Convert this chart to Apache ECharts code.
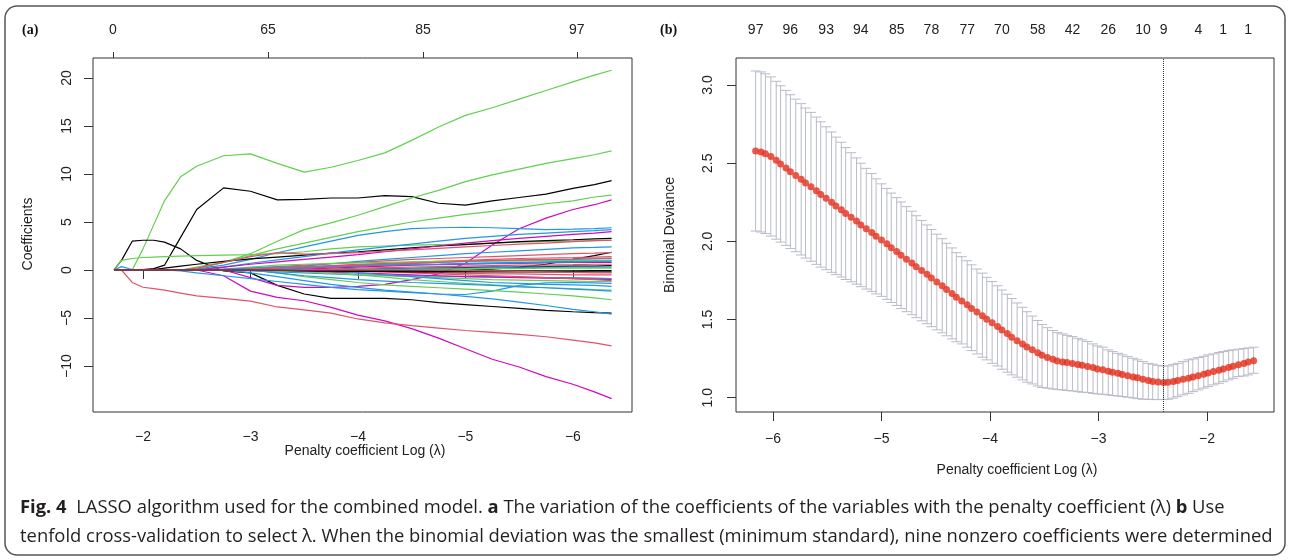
<!DOCTYPE html>
<html>
<head>
<meta charset="utf-8">
<script src="https://cdn.jsdelivr.net/npm/echarts@6/dist/echarts.min.js"></script>
<style>
  html, body { margin: 0; padding: 0; background: #fff; }
  #chart { width: 1290px; height: 560px; }
</style>
</head>
<body>
<div id="chart"></div>
<script>
// ---- panel (a): coefficient paths, sampled at these log(lambda) values
const LOG_LAMBDA_A = [-1.73, -1.8, -1.9, -2.0, -2.1, -2.2, -2.35, -2.5, -2.75, -3.0, -3.25, -3.5,
  -3.75, -4.0, -4.25, -4.5, -4.75, -5.0, -5.25, -5.5, -5.75, -6.0, -6.2, -6.36]

const G1 = [0, 0, 0, 2.2, 4.7, 7.2, 9.7, 10.8, 11.9, 12.1, 11.1, 10.2, 10.7, 11.4, 12.2, 13.5, 14.9, 16.1, 16.9, 17.8, 18.7, 19.6, 20.3, 20.8]
const K1 = [0, 0, 0, 0.05, 0.15, 0.5, 3.4, 6.3, 8.55, 8.2, 7.3, 7.35, 7.5, 7.5, 7.75, 7.65, 6.95, 6.75, 7.2, 7.55, 7.9, 8.5, 8.9, 9.3]
const K2 = [0, 1.0, 3.0, 3.1, 3.1, 2.9, 2.2, 1.0, -0.1, -0.3, -1.6, -2.5, -2.95, -2.95, -2.95, -3.1, -3.4, -3.6, -3.8, -4.0, -4.2, -4.35, -4.45, -4.5]
const G2 = [0, 0, 0, 0, 0, 0, 0, 0.1, 0.8, 1.7, 3.0, 4.2, 4.9, 5.7, 6.6, 7.5, 8.3, 9.2, 9.9, 10.5, 11.1, 11.6, 12.0, 12.4]
const G3 = [0, 0, 0, 0, 0, 0, 0, 0.3, 0.8, 1.5, 2.2, 2.8, 3.4, 4.0, 4.5, 5.0, 5.4, 5.8, 6.1, 6.5, 6.9, 7.2, 7.6, 7.8]
const M1 = [0, 0, 0, 0, 0, 0, 0, 0, -0.6, -2.2, -2.85, -3.2, -3.9, -4.7, -5.3, -6.1, -7.1, -8.2, -9.3, -10.1, -11.1, -11.9, -12.7, -13.4]
const R1 = [0, 0, -1.3, -1.8, -1.95, -2.1, -2.4, -2.7, -2.95, -3.25, -3.85, -4.15, -4.5, -5.1, -5.5, -5.8, -6.05, -6.3, -6.5, -6.7, -6.95, -7.3, -7.6, -7.9]
const M2 = [0, 0, 0, 0, 0, 0, 0, 0, 0, -0.8, -1.6, -1.8, -1.8, -1.7, -1.5, -1.0, -0.4, 0.7, 2.6, 4.3, 5.4, 6.3, 6.8, 7.3]
const B1 = [0, 0, 0, 0, 0, 0, 0, 0.1, 0.5, 1.1, 1.8, 2.4, 3.0, 3.6, 4.0, 4.3, 4.4, 4.45, 4.4, 4.3, 4.2, 4.25, 4.3, 4.4]
const G4 = [0, 1.0, 1.2, 1.3, 1.35, 1.4, 1.45, 1.5, 1.55, 1.6, 1.7, 1.9, 2.2, 2.4, 2.5, 2.6, 2.65, 2.7, 2.8, 2.9, 2.95, 3.0, 3.05, 3.1]
const K3 = [0, 0, 0, 0, 0.05, 0.2, 0.4, 0.6, 0.9, 1.15, 1.35, 1.55, 1.75, 1.9, 2.1, 2.3, 2.5, 2.65, 2.8, 2.95, 3.05, 3.15, 3.25, 3.3]
const K4 = [0, 0, 0, 0, 0, 0, 0, 0, 0, 0, 0, 0, 0, 0, 0, 0, 0, 0, 0.1, 0.3, 0.6, 1.1, 1.5, 1.85]
const B2 = [0, 0, 0, 0, 0, 0, 0, 0, 0, -0.3, -0.7, -1.1, -1.5, -1.8, -2.1, -2.3, -2.5, -2.75, -3.0, -3.35, -3.7, -4.1, -4.35, -4.6]
const B3 = [0, 0, 0, 0, 0, 0, -0.1, -0.3, -0.6, -0.9, -1.2, -1.5, -1.8, -2.05, -2.2, -2.35, -2.5, -2.55, -2.2, -1.6, -1.35, -1.3, -1.35, -1.4]
const G5 = [0, 0, 0, 0, 0, 0, 0, 0, 0, 0, -0.3, -0.7, -1.0, -1.3, -1.55, -1.7, -1.85, -2.0, -2.15, -2.3, -2.5, -2.7, -2.9, -3.1]
const G6 = [0, 0, 0, 0, 0, 0, 0, 0, 0, 0, 0, 0, -0.2, -0.5, -0.75, -1.0, -1.2, -1.4, -1.55, -1.7, -1.85, -1.95, -2.05, -2.1]
const B4 = [0, 0, 0, 0, 0, 0, 0, 0, 0, 0, -0.3, -0.6, -0.8, -1.0, -1.15, -1.3, -1.4, -1.5, -1.6, -1.75, -1.85, -2.0, -2.1, -2.2]
const B5 = [0, 0, 0, 0, 0, 0, 0, 0, 0.3, 0.7, 1.05, 1.4, 1.75, 2.1, 2.4, 2.7, 3.0, 3.3, 3.5, 3.7, 3.85, 4.0, 4.1, 4.2]
const M3 = [0, 0, 0, 0, 0, 0, 0, 0, 0.3, 0.6, 0.85, 1.1, 1.35, 1.6, 1.9, 2.2, 2.5, 2.8, 3.05, 3.3, 3.5, 3.7, 3.85, 4.0]
const R2 = [0, 0, 0, 0, 0, 0, 0, 0.2, 0.8, 1.4, 1.8, 1.65, 1.7, 1.8, 1.95, 2.1, 2.25, 2.4, 2.55, 2.7, 2.8, 2.95, 3.05, 3.1]
const B6 = [0, 0, 0, 0, 0, 0, 0, 0, 0, 0, 0.2, 0.4, 0.65, 0.9, 1.1, 1.3, 1.5, 1.7, 1.85, 2.0, 2.15, 2.3, 2.35, 2.4]
const R3 = [0, 0, 0, 0, 0, 0, 0, 0, 0, 0.2, 0.35, 0.5, 0.65, 0.8, 0.95, 1.1, 1.2, 1.3, 1.4, 1.5, 1.6, 1.7, 1.75, 1.8]
const R4 = [0, 0, 0, 0, 0, 0, 0, 0, 0, 0, 0.15, 0.3, 0.45, 0.6, 0.7, 0.8, 0.9, 1.0, 1.1, 1.2, 1.25, 1.3, 1.35, 1.4]
const B7 = [0, 0.35, 0.05, 0, 0, 0, 0, 0, 0, 0, 0.1, 0.2, 0.3, 0.4, 0.5, 0.55, 0.6, 0.7, 0.75, 0.8, 0.85, 0.9, 0.95, 1.0]
const N1 = [0, 0, 0, 0, 0, 0, 0, 0, 0, 0, 0.1, 0.25, 0.4, 0.5, 0.6, 0.7, 0.8, 0.9, 0.95, 1.0, 1.05, 1.1, 1.15, 1.2]
const N2 = [0, 0, 0, 0, 0, 0, 0, 0, 0.1, 0.3, 0.5, 0.6, 0.7, 0.75, 0.8, 0.85, 0.9, 0.9, 0.95, 0.95, 1.0, 1.0, 1.0, 1.0]
const N3 = [0, 0, 0, 0, 0, 0, 0, 0, 0, 0, 0, 0.1, 0.2, 0.3, 0.4, 0.5, 0.55, 0.6, 0.65, 0.7, 0.75, 0.8, 0.8, 0.8]
const N4 = [0, 0, 0, 0, 0, 0, 0, 0, 0, 0, 0, 0, 0.1, 0.2, 0.25, 0.3, 0.35, 0.4, 0.45, 0.5, 0.5, 0.55, 0.6, 0.6]
const N5 = [0, 0, 0, 0, 0, 0, 0, 0, 0, 0, 0, 0, 0, 0.05, 0.1, 0.15, 0.2, 0.25, 0.3, 0.3, 0.35, 0.4, 0.4, 0.45]
const N6 = [0, 0, 0, 0, 0, 0, 0, 0, 0, 0, 0, 0, 0, 0, 0.1, 0.15, 0.2, 0.2, 0.25, 0.3, 0.3, 0.3, 0.3, 0.3]
const N7 = [0, 0, 0, 0, 0, 0, 0, 0, 0, 0, 0, 0, 0, 0, 0, 0.05, 0.1, 0.1, 0.15, 0.15, 0.2, 0.2, 0.2, 0.2]
const N10 = [0, 0, 0, 0, 0, 0, 0, 0, 0, 0, 0, 0, -0.1, -0.15, -0.2, -0.25, -0.3, -0.35, -0.4, -0.4, -0.45, -0.5, -0.5, -0.5]
const N11 = [0, 0, 0, 0, 0, 0, 0, 0, 0, -0.1, -0.2, -0.3, -0.4, -0.5, -0.55, -0.6, -0.65, -0.7, -0.7, -0.75, -0.8, -0.8, -0.85, -0.9]
const N12 = [0, 0, 0, 0, 0, 0, 0, 0, 0, 0, -0.1, -0.2, -0.35, -0.5, -0.6, -0.7, -0.8, -0.9, -1.0, -1.05, -1.1, -1.15, -1.2, -1.2]
const N13 = [0, 0, 0, 0, 0, 0, 0, 0, 0, 0, 0, -0.1, -0.2, -0.3, -0.4, -0.5, -0.6, -0.7, -0.75, -0.8, -0.85, -0.9, -0.95, -1.0]
const N14 = [0, 0, 0, 0, 0, 0, 0, 0, 0, 0, 0, 0, 0, -0.1, -0.2, -0.3, -0.4, -0.5, -0.6, -0.7, -0.8, -0.9, -1.0, -1.1]
const N15 = [0, 0, 0, 0, 0, 0, 0, 0, 0, 0, 0, 0, -0.1, -0.3, -0.5, -0.7, -0.9, -1.1, -1.3, -1.4, -1.5, -1.55, -1.6, -1.7]
const N16 = [0, 0, 0, 0, 0, 0, 0, 0, 0.1, 0.2, 0.3, 0.35, 0.4, 0.45, 0.5, 0.55, 0.6, 0.65, 0.7, 0.75, 0.8, 0.85, 0.9, 0.9]
const N17 = [0, 0, 0, 0, 0, 0, 0, 0, 0, 0.1, 0.2, 0.3, 0.4, 0.5, 0.6, 0.7, 0.8, 0.9, 1.0, 1.05, 1.1, 1.15, 1.2, 1.25]
const N8 = [0, 0, 0, 0, 0, 0, 0, 0, 0, 0, -0.05, -0.1, -0.1, -0.15, -0.15, -0.2, -0.2, -0.2, -0.2, -0.2, -0.2, -0.2, -0.2, -0.2]
const N9 = [0, 0, 0, 0, 0, 0, 0, 0, 0, 0, 0, -0.05, -0.1, -0.1, -0.1, -0.1, -0.15, -0.1, -0.1, -0.1, -0.1, -0.1, -0.05, -0.05]
const N18 = [0, 0, 0, 0, 0, 0, 0, 0, 0, 0, 0, 0, 0, 0, 0, 0, 0, -0.05, -0.1, -0.15, -0.2, -0.25, -0.3, -0.3]

// number of nonzero coefficients on the top axis of (a)
const TOP_A_POS = [-1.72, -3.163, -4.605, -6.037]
const TOP_A_LABELS = ['0', '65', '85', '97']

// ---- panel (b): cross-validation curve
const LOG_LAMBDA_B = [
  -6.16, -6.11, -6.07, -6.02, -5.97, -5.93, -5.88, -5.84, -5.79, -5.74,
  -5.70, -5.65, -5.60, -5.56, -5.51, -5.46, -5.42, -5.37, -5.33, -5.28,
  -5.23, -5.19, -5.14, -5.09, -5.05, -5.00, -4.95, -4.91, -4.86, -4.82,
  -4.77, -4.72, -4.68, -4.63, -4.58, -4.54, -4.49, -4.44, -4.40, -4.35,
  -4.31, -4.26, -4.21, -4.17, -4.12, -4.07, -4.03, -3.98, -3.93, -3.89,
  -3.84, -3.80, -3.75, -3.70, -3.66, -3.61, -3.56, -3.52, -3.47, -3.42,
  -3.38, -3.33, -3.29, -3.24, -3.19, -3.15, -3.10, -3.05, -3.01, -2.96,
  -2.91, -2.87, -2.82, -2.78, -2.73, -2.68, -2.64, -2.59, -2.54, -2.50,
  -2.45, -2.40, -2.36, -2.31, -2.27, -2.22, -2.17, -2.13, -2.08, -2.03,
  -1.99, -1.94, -1.89, -1.85, -1.80, -1.76, -1.71, -1.66, -1.62, -1.57]
const CV_MEAN = [
  2.578, 2.572, 2.561, 2.543, 2.519, 2.495, 2.470, 2.446, 2.422, 2.397,
  2.373, 2.349, 2.324, 2.300, 2.276, 2.251, 2.227, 2.203, 2.178, 2.154,
  2.130, 2.105, 2.081, 2.057, 2.032, 2.008, 1.984, 1.959, 1.935, 1.911,
  1.886, 1.862, 1.838, 1.813, 1.789, 1.765, 1.740, 1.716, 1.692, 1.667,
  1.643, 1.618, 1.594, 1.571, 1.548, 1.525, 1.502, 1.479, 1.456, 1.433,
  1.410, 1.387, 1.365, 1.344, 1.325, 1.306, 1.288, 1.271, 1.257, 1.246,
  1.235, 1.229, 1.225, 1.218, 1.212, 1.208, 1.199, 1.193, 1.184, 1.178,
  1.169, 1.163, 1.156, 1.148, 1.141, 1.133, 1.127, 1.118, 1.110, 1.103,
  1.101, 1.097, 1.099, 1.103, 1.110, 1.118, 1.124, 1.133, 1.141, 1.150,
  1.158, 1.167, 1.176, 1.184, 1.193, 1.201, 1.210, 1.218, 1.229, 1.237]
const CV_UPPER = [
  3.090, 3.084, 3.072, 3.052, 3.024, 2.995, 2.966, 2.938, 2.910, 2.881,
  2.853, 2.825, 2.795, 2.765, 2.733, 2.700, 2.667, 2.634, 2.600, 2.567,
  2.534, 2.500, 2.467, 2.434, 2.400, 2.368, 2.339, 2.309, 2.280, 2.252,
  2.222, 2.193, 2.164, 2.134, 2.105, 2.076, 2.046, 2.017, 1.988, 1.958,
  1.928, 1.902, 1.876, 1.850, 1.823, 1.797, 1.770, 1.743, 1.716, 1.689,
  1.662, 1.634, 1.606, 1.578, 1.550, 1.522, 1.494, 1.468, 1.448, 1.430,
  1.416, 1.408, 1.399, 1.391, 1.380, 1.370, 1.359, 1.344, 1.331, 1.323,
  1.306, 1.295, 1.284, 1.274, 1.263, 1.252, 1.242, 1.231, 1.220, 1.214,
  1.207, 1.203, 1.203, 1.212, 1.220, 1.231, 1.242, 1.248, 1.257, 1.265,
  1.274, 1.280, 1.289, 1.295, 1.301, 1.306, 1.310, 1.314, 1.318, 1.323]
const CV_LOWER = [
  2.066, 2.060, 2.050, 2.034, 2.014, 1.995, 1.974, 1.954, 1.934, 1.913,
  1.893, 1.873, 1.853, 1.835, 1.819, 1.802, 1.787, 1.772, 1.756, 1.741,
  1.726, 1.710, 1.695, 1.680, 1.664, 1.648, 1.629, 1.609, 1.590, 1.570,
  1.550, 1.531, 1.512, 1.492, 1.473, 1.454, 1.434, 1.415, 1.396, 1.376,
  1.358, 1.344, 1.323, 1.301, 1.280, 1.259, 1.242, 1.220, 1.203, 1.182,
  1.163, 1.146, 1.131, 1.114, 1.099, 1.088, 1.075, 1.065, 1.061, 1.056,
  1.052, 1.050, 1.046, 1.043, 1.039, 1.035, 1.033, 1.028, 1.024, 1.022,
  1.018, 1.014, 1.011, 1.007, 1.003, 0.999, 0.994, 0.990, 0.990, 0.988,
  0.988, 0.988, 0.990, 0.997, 1.007, 1.018, 1.028, 1.039, 1.050, 1.061,
  1.071, 1.082, 1.092, 1.103, 1.114, 1.124, 1.135, 1.139, 1.146, 1.156]
const LAMBDA_MIN = -2.40
// top axis of (b): lambda index -> number of nonzero coefficients
const TOP_B_IDX = [0, 7, 14, 21, 28, 35, 42, 49, 56, 63, 70, 77, 81, 88, 93, 98]
const TOP_B_LABELS = ['97', '96', '93', '94', '85', '78', '77', '70', '58', '42', '26', '10', '9', '4', '1', '1']

const FONT = "'Liberation Sans', Arial, sans-serif"
const CAPTION_FONT = "'Open Sans', 'Noto Sans', sans-serif"
const INK = '#222'
const BLACK = '#000000', PINK = '#DF536B', GREEN = '#61D04F', BLUE = '#2297E6', MAGENTA = '#CD0BBC'
const BAR_GREY = '#b9bbc7'

const paths = [
  [G1, GREEN], [K1, BLACK], [K2, BLACK], [G2, GREEN], [G3, GREEN], [M1, MAGENTA], [R1, PINK],
  [M2, MAGENTA], [B1, BLUE], [G4, GREEN], [K3, BLACK], [K4, BLACK], [B2, BLUE], [B3, BLUE],
  [G5, GREEN], [G6, GREEN], [B4, BLUE], [B5, BLUE], [M3, MAGENTA], [R2, PINK], [B6, BLUE],
  [R3, PINK], [R4, PINK], [B7, BLUE], [N1, BLUE], [N2, GREEN], [N3, MAGENTA], [N4, PINK],
  [N5, BLACK], [N6, BLUE], [N7, GREEN], [N10, PINK], [N11, BLUE], [N12, GREEN], [N13, MAGENTA],
  [N14, PINK], [N15, BLUE], [N16, BLUE], [N17, PINK], [N8, BLACK], [N9, BLACK], [N18, PINK],
]

const minus = (v) => String(v).replace('-', '\u2212')

const tickStyle = { color: '#333', width: 1 }
const labelBase = { fontFamily: FONT, fontSize: 14, color: INK }

const chart = echarts.init(document.getElementById('chart'), null, { renderer: 'canvas' })

const pathSeries = paths.map(([ys, color]) => ({
  type: 'line',
  xAxisIndex: 0,
  yAxisIndex: 0,
  data: LOG_LAMBDA_A.map((x, i) => [x, ys[i]]),
  showSymbol: false,
  silent: true,
  lineStyle: { color, width: 1.2 },
}))

const topBPos = TOP_B_IDX.map(i => LOG_LAMBDA_B[i])

const CAP = 0.046 // half width of the error bar caps, in log(lambda) units

const option = {
  animation: false,
  backgroundColor: '#fff',
  grid: [
    { left: 93, top: 58, width: 539, height: 354, show: true, borderColor: '#333', borderWidth: 1 },
    { left: 736, top: 58, width: 538, height: 354, show: true, borderColor: '#333', borderWidth: 1 },
  ],
  xAxis: [
    {
      gridIndex: 0, type: 'value', min: -6.55, max: -1.535, inverse: true,
      axisLine: { show: false }, splitLine: { show: false },
      axisTick: { show: true, length: 9, customValues: [-6, -5, -4, -3, -2], lineStyle: tickStyle },
      axisLabel: { ...labelBase, margin: 18, customValues: [-6, -5, -4, -3, -2], formatter: minus },
    },
    {
      gridIndex: 0, type: 'value', position: 'top', min: -6.55, max: -1.535, inverse: true,
      axisLine: { show: false }, splitLine: { show: false },
      axisTick: { show: true, length: 6, customValues: TOP_A_POS, lineStyle: tickStyle },
      axisLabel: {
        ...labelBase, margin: 21, customValues: TOP_A_POS,
        formatter: (v) => TOP_A_LABELS[TOP_A_POS.indexOf(v)],
      },
    },
    {
      gridIndex: 1, type: 'value', min: -6.341, max: -1.382,
      axisLine: { show: false }, splitLine: { show: false },
      axisTick: { show: true, length: 9, customValues: [-6, -5, -4, -3, -2], lineStyle: tickStyle },
      axisLabel: { ...labelBase, margin: 20, customValues: [-6, -5, -4, -3, -2], formatter: minus },
    },
    {
      gridIndex: 1, type: 'value', position: 'top', min: -6.341, max: -1.382,
      axisLine: { show: false }, splitLine: { show: false }, axisTick: { show: false },
      axisLabel: {
        ...labelBase, margin: 21, customValues: topBPos,
        formatter: (v) => TOP_B_LABELS[topBPos.indexOf(v)],
      },
    },
  ],
  yAxis: [
    {
      gridIndex: 0, type: 'value', min: -14.79, max: 22.08,
      axisLine: { show: false }, splitLine: { show: false },
      axisTick: { show: true, length: 9, customValues: [-10, -5, 0, 5, 10, 15, 20], lineStyle: tickStyle },
      axisLabel: { ...labelBase, margin: 19, rotate: 90, customValues: [-10, -5, 0, 5, 10, 15, 20], formatter: minus },
    },
    {
      gridIndex: 1, type: 'value', min: 0.9085, max: 3.173,
      axisLine: { show: false }, splitLine: { show: false },
      axisTick: { show: true, length: 9, customValues: [1, 1.5, 2, 2.5, 3], lineStyle: tickStyle },
      axisLabel: { ...labelBase, margin: 21, rotate: 90, customValues: [1, 1.5, 2, 2.5, 3], formatter: (v) => v.toFixed(1) },
    },
  ],
  series: [
    ...pathSeries,
    {
      type: 'custom',
      xAxisIndex: 2,
      yAxisIndex: 1,
      silent: true,
      data: LOG_LAMBDA_B.map((x, i) => [x, CV_LOWER[i], CV_UPPER[i]]),
      encode: { x: 0, y: [1, 2] },
      renderItem: (params, api) => {
        const x = api.value(0)
        const top = api.coord([x, api.value(2)])
        const bot = api.coord([x, api.value(1)])
        const half = api.size([CAP, 0])[0]
        const st = { stroke: BAR_GREY, lineWidth: 1 }
        return {
          type: 'group',
          children: [
            { type: 'line', shape: { x1: top[0], y1: top[1], x2: bot[0], y2: bot[1] }, style: st },
            { type: 'line', shape: { x1: top[0] - half, y1: top[1], x2: top[0] + half, y2: top[1] }, style: st },
            { type: 'line', shape: { x1: bot[0] - half, y1: bot[1], x2: bot[0] + half, y2: bot[1] }, style: st },
          ],
        }
      },
    },
    {
      type: 'scatter',
      xAxisIndex: 2,
      yAxisIndex: 1,
      silent: true,
      data: LOG_LAMBDA_B.map((x, i) => [x, CV_MEAN[i]]),
      symbolSize: 7,
      itemStyle: { color: '#e5301c' },
      markLine: {
        silent: true,
        symbol: 'none',
        label: { show: false },
        lineStyle: { color: '#333', type: 'dotted', width: 1 },
        data: [{ xAxis: LAMBDA_MIN }],
      },
    },
  ],
  graphic: [
    {
      type: 'rect', silent: true,
      shape: { x: 5, y: 6, width: 1280, height: 549, r: 12 },
      style: { fill: 'none', stroke: '#555', lineWidth: 1.5 },
    },
    { type: 'text', x: 22, y: 30, style: { text: '(a)', font: "bold 14px 'Liberation Serif', serif", fill: '#111', verticalAlign: 'middle' } },
    { type: 'text', x: 660, y: 30, style: { text: '(b)', font: "bold 14px 'Liberation Serif', serif", fill: '#111', verticalAlign: 'middle' } },
    {
      type: 'text', x: 28, y: 234, rotation: Math.PI / 2,
      style: { text: 'Coefficients', fontFamily: FONT, fontSize: 14, fill: INK, align: 'center', verticalAlign: 'middle' },
    },
    {
      type: 'text', x: 670, y: 235, rotation: Math.PI / 2,
      style: { text: 'Binomial Deviance', fontFamily: FONT, fontSize: 14, fill: INK, align: 'center', verticalAlign: 'middle' },
    },
    {
      type: 'text', x: 365, y: 451,
      style: { text: 'Penalty coefficient Log (\u03bb)', fontFamily: FONT, fontSize: 14, fill: INK, align: 'center', verticalAlign: 'middle' },
    },
    {
      type: 'text', x: 1017, y: 470,
      style: { text: 'Penalty coefficient Log (\u03bb)', fontFamily: FONT, fontSize: 14, fill: INK, align: 'center', verticalAlign: 'middle' },
    },
    {
      type: 'text', x: 20, y: 508,
      style: {
        text: '{b|Fig. 4}  LASSO algorithm used for the combined model. {b|a} The variation of the coefficients of the variables with the penalty coefficient (\u03bb) {b|b} Use',
        fontFamily: CAPTION_FONT, fontSize: 18.4, fill: '#231f20', verticalAlign: 'middle',
        rich: { b: { fontFamily: CAPTION_FONT, fontSize: 18.4, fontWeight: 'bold', fill: '#231f20' } },
      },
    },
    {
      type: 'text', x: 20, y: 537,
      style: {
        text: 'tenfold cross-validation to select \u03bb. When the binomial deviation was the smallest (minimum standard), nine nonzero coefficients were determined',
        fontFamily: CAPTION_FONT, fontSize: 18.4, fill: '#231f20', verticalAlign: 'middle',
      },
    },
  ],
}

chart.setOption(option)
</script>
</body>
</html>
